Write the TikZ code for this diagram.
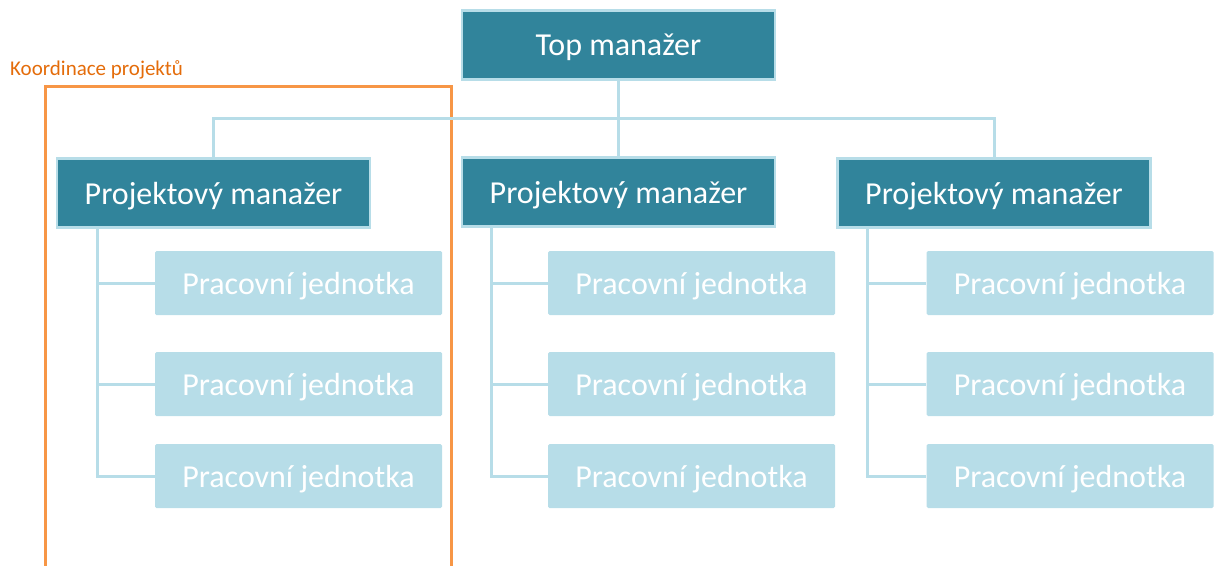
\documentclass[tikz,border=0pt]{standalone}
\usepackage{fontspec}
\setmainfont{Carlito}
\definecolor{dark}{RGB}{49,132,155}
\definecolor{light}{RGB}{183,221,232}
\definecolor{orangeline}{RGB}{247,150,70}
\definecolor{orangetext}{RGB}{228,108,10}
\tikzset{
  mgr/.style={draw=light, line width=2.5pt, fill=dark, text=white, minimum width=313pt, minimum height=69pt, inner sep=0pt, text depth=0pt, font=\fontsize{32}{36}\selectfont},
  unit/.style={fill=light, text=white, rounded corners=1.5pt, minimum width=287pt, minimum height=64pt, inner sep=0pt, text depth=0pt, font=\fontsize{32}{36}\selectfont},
  conn/.style={draw=light, line width=3pt},
}
\begin{document}
\begin{tikzpicture}[x=1pt,y=-1pt]
\useasboundingbox (0,0) rectangle (1218,565);
% orange frame
\draw[orangeline, line width=3pt] (45,570) -- (45,86) -- (451,86) -- (451,570);
\node[anchor=base west, text=orangetext, font=\fontsize{21}{24}\selectfont, inner sep=0pt] (lbl) at (10,75) {Koordinace projektů};
% nodes
\node[mgr] (top) at (618.5,45) {Top manažer};
\node[mgr] (pm1) at (213.5,193) {Projektový manažer};
\node[mgr] (pm2) at (618.5,192) {Projektový manažer};
\node[mgr] (pm3) at (994,193) {Projektový manažer};
\foreach \r/\y in {1/283,2/384,3/476}{
  \node[unit] (a\r) at (298.5,\y) {Pracovní jednotka};
  \node[unit] (b\r) at (691.5,\y) {Pracovní jednotka};
  \node[unit] (c\r) at (1070,\y) {Pracovní jednotka};
}
\coordinate (bus) at (618.5,118);
\coordinate (sa) at (97,0);
\coordinate (sb) at (491,0);
\coordinate (sc) at (867,0);
% connectors
\draw[conn] (top.south) -- (pm2.north);
\draw[conn] (pm1.north) |- (bus) -| (pm3.north);
\draw[conn] (pm1.south -| sa) |- (a3.west);
\draw[conn] (a1.west -| sa) -- (a1.west);
\draw[conn] (a2.west -| sa) -- (a2.west);
\draw[conn] (pm2.south -| sb) |- (b3.west);
\draw[conn] (b1.west -| sb) -- (b1.west);
\draw[conn] (b2.west -| sb) -- (b2.west);
\draw[conn] (pm3.south -| sc) |- (c3.west);
\draw[conn] (c1.west -| sc) -- (c1.west);
\draw[conn] (c2.west -| sc) -- (c2.west);
\end{tikzpicture}
\end{document}
